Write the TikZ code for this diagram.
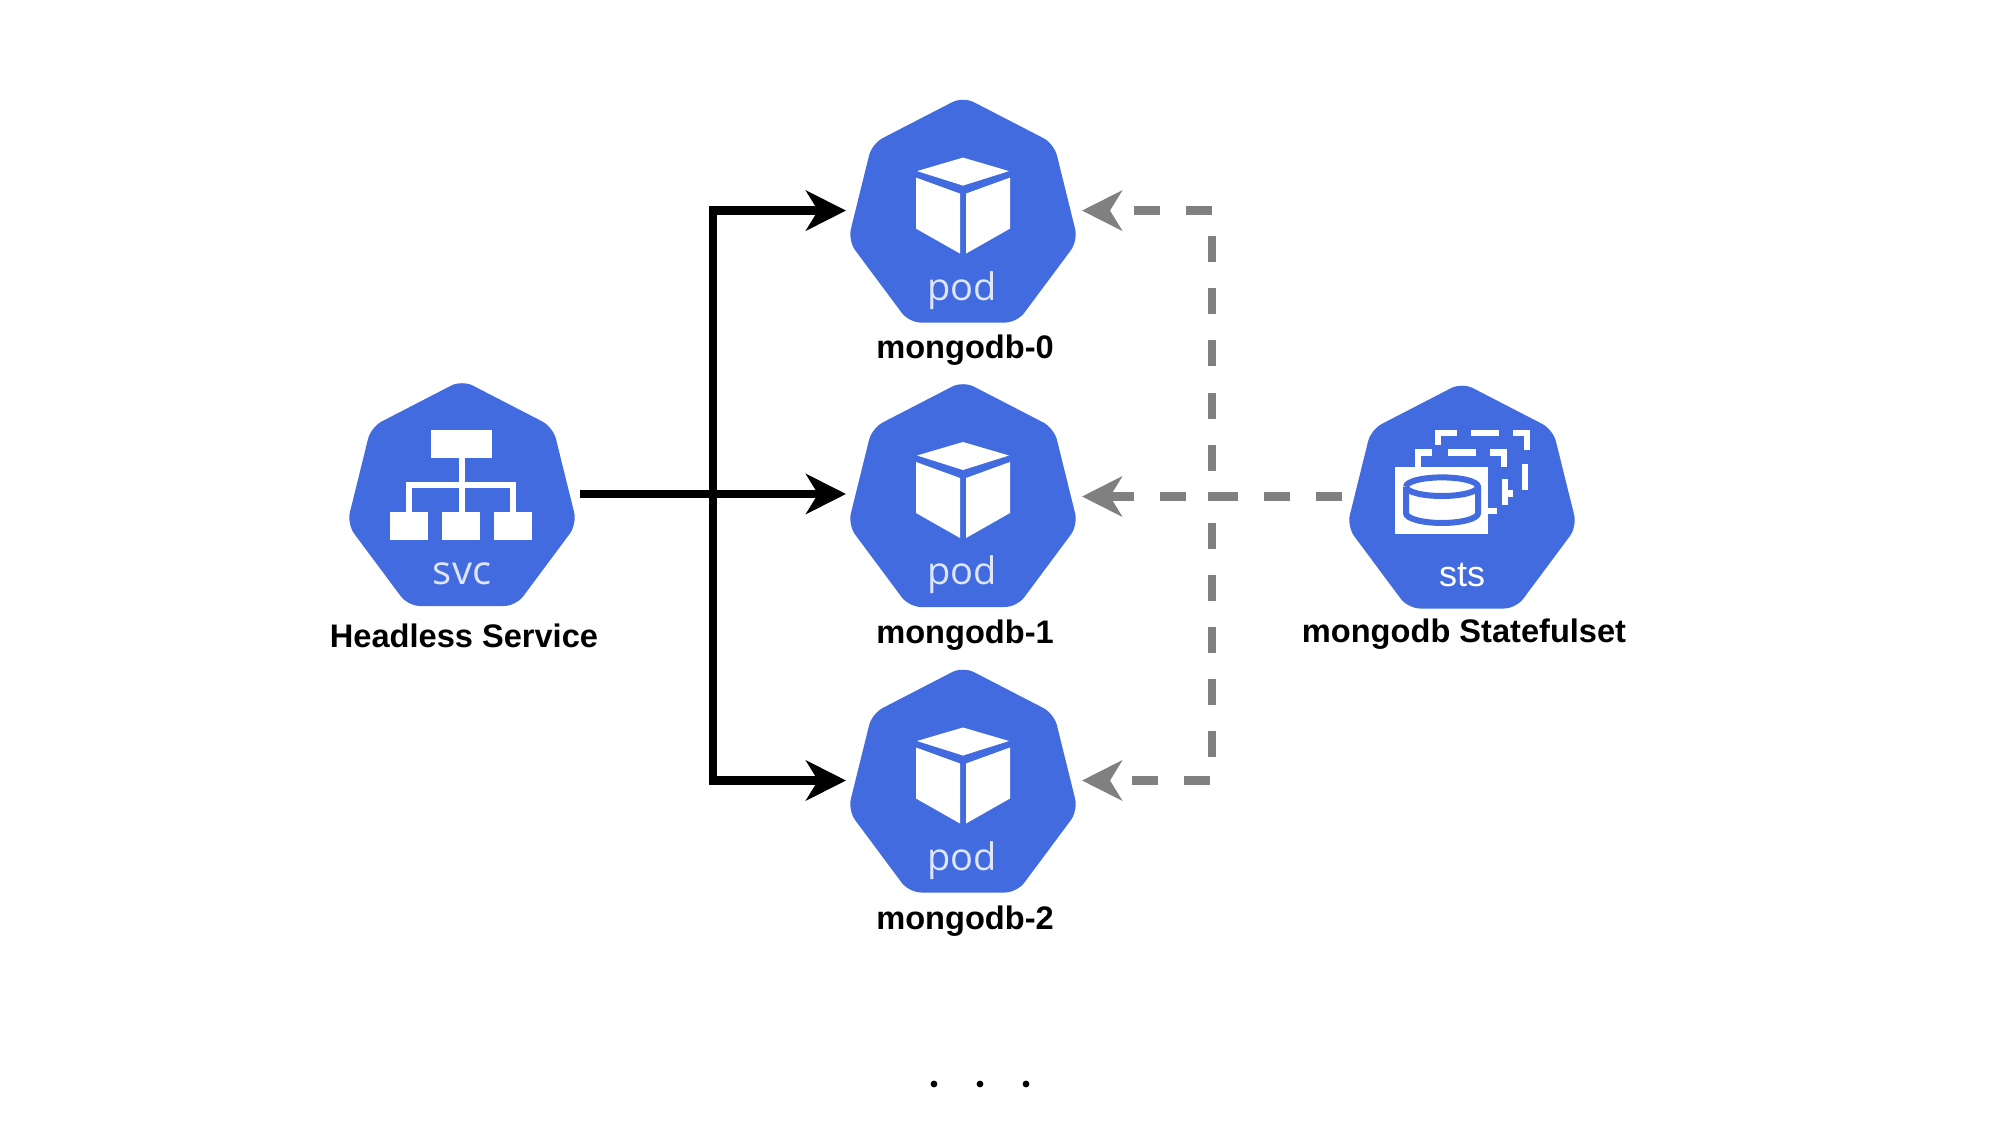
\documentclass[tikz,border=0pt]{standalone}
\usepackage{fontspec}
\setmainfont{Liberation Sans}
\newfontfamily\iconfont{Open Sans}
\usetikzlibrary{arrows.meta}
\definecolor{kubeblue}{HTML}{416BDF}
\definecolor{kubetext}{HTML}{DFE6F9}
\definecolor{stsgray}{HTML}{808080}
\tikzset{
	x=0.5pt,y=-0.5pt,
	hexbody/.pic={
		\fill[kubeblue,rounded corners=6pt] (0,-114) -- (91,-67) -- (115,30) -- (54,112) -- (-54,112) -- (-115,30) -- (-91,-67) -- cycle;
	},
	podicon/.pic={
		\pic {hexbody};
		\fill[white] (0,-53) -- (46,-39.5) -- (0,-25) -- (-46,-39.5) -- cycle;
		\fill[white] (-47,-33) -- (-3,-17) -- (-3,43) -- (-47,18) -- cycle;
		\fill[white] (47,-33) -- (3,-17) -- (3,43) -- (47,18) -- cycle;
		\node[icontext,font=\iconfont\fontsize{19}{19}\selectfont] (-txt) at (-1,80) {pod};
	},
	svcicon/.pic={
		\pic {hexbody};
		\fill[white] (-31,-64) rectangle (30,-36);
		\fill[white] (-72,18) rectangle (-34,46);
		\fill[white] (-20,18) rectangle (18,46);
		\fill[white] (32,18) rectangle (70,46);
		\draw[white,line width=3.2pt] (0,-36) -- (0,18);
		\draw[white,line width=3.2pt] (-53,18) -- (-53,-9) -- (51,-9) -- (51,18);
		\node[icontext,font=\iconfont\fontsize{20}{20}\selectfont] (-txt) at (0,80) {svc};
	},
	stsicon/.pic={
		\pic {hexbody};
		\fill[white] (-67,-30) rectangle (26,38);
		\draw[kubeblue,line width=3pt] (-56,-10) arc[start angle=180,end angle=540,x radius=36,y radius=9.5];
		\draw[kubeblue,line width=3pt] (-56,-10) -- (-56,17) arc[start angle=180,end angle=0,x radius=36,y radius=10] -- (16,-10);
		\begin{scope}[white,line width=3.2pt]
			\draw (-24,-53) -- (-24,-65) -- (-5,-65);
			\draw (9,-65) -- (37,-65);
			\draw (51,-65) -- (65,-65) -- (65,-47);
			\draw (63,-33) -- (63,-7);
			\draw (-44,-30) -- (-44,-45) -- (-30,-45);
			\draw (-14,-45) -- (14,-45);
			\draw (28,-45) -- (42,-45) -- (42,-30);
			\draw (43,-18) -- (43,9);
			\draw (40,-3) -- (51,-3);
			\draw (26,15) -- (35,15);
		\end{scope}
		\node[icontext,text=white,font=\fontsize{18}{18}\selectfont] (-txt) at (0,80) {sts};
	},
	icontext/.style={text=kubetext,inner sep=0pt},
	caption/.style={font=\bfseries\fontsize{16.3}{16.3}\selectfont,inner sep=0pt},
	hexbox/.style={minimum width=115pt,minimum height=112pt,inner sep=0pt,outer sep=0pt},
	svcline/.style={line width=4.4pt,shorten >=1pt,-{Stealth[length=20pt,width=20pt,inset=6pt]}},
	stsline/.style={stsgray,line width=4.4pt,dash pattern=on 13pt off 13pt,shorten >=2pt,shorten <=2.5pt,-{Stealth[length=20pt,width=20pt,inset=6pt]}},
}
\begin{document}
\begin{tikzpicture}
	\useasboundingbox (0,0) rectangle (1990,1144);
	\begin{scope}[every node/.style={hexbox}]
		\node (svc) at (462,494) {};
		\node (pod0) at (963,210.6) {};
		\node (pod1) at (963,494) {};
		\node (pod2) at (963,780.5) {};
		\node (sts) at (1462,496.5) {};
	\end{scope}

	\pic (svc) at (svc) {svcicon};
	\pic (pod0) at (pod0) {podicon};
	\pic (pod1) at (963,495) {podicon};
	\pic (pod2) at (pod2) {podicon};
	\pic[yscale=0.98] (sts) at (sts) {stsicon};

	\begin{scope}[every node/.style={caption}]
		\node (svclabel) at (464,636) {Headless Service};
		\node (pod0label) at (965,350) {mongodb-0};
		\node (pod1label) at (965,635) {mongodb-1};
		\node (pod2label) at (965,921) {mongodb-2};
		\node (stslabel) at (1464,634) {mongodb Statefulset};
	\end{scope}

	\coordinate (svcjoin) at (713,494);
	\coordinate (stsjoin) at (1212,496.5);

	\draw[svcline,shorten <=1.5pt] (svc.east) -- (pod1.west);
	\draw[svcline] (svcjoin) |- (pod0.west);
	\draw[svcline] (svcjoin) |- (pod2.west);

	\draw[stsline] (sts.west) -- (sts.west -| pod1.east);
	\draw[stsline] (sts.west) -- (stsjoin) |- (pod0.east);
	\draw[stsline] (sts.west) -- (stsjoin) |- (pod2.east);

	\foreach \i/\dotx in {0/934,1/980,2/1026} {
		\node[circle,fill=black,inner sep=0pt,minimum size=3.4pt] (dot\i) at (\dotx,1084) {};
	}
\end{tikzpicture}
\end{document}
